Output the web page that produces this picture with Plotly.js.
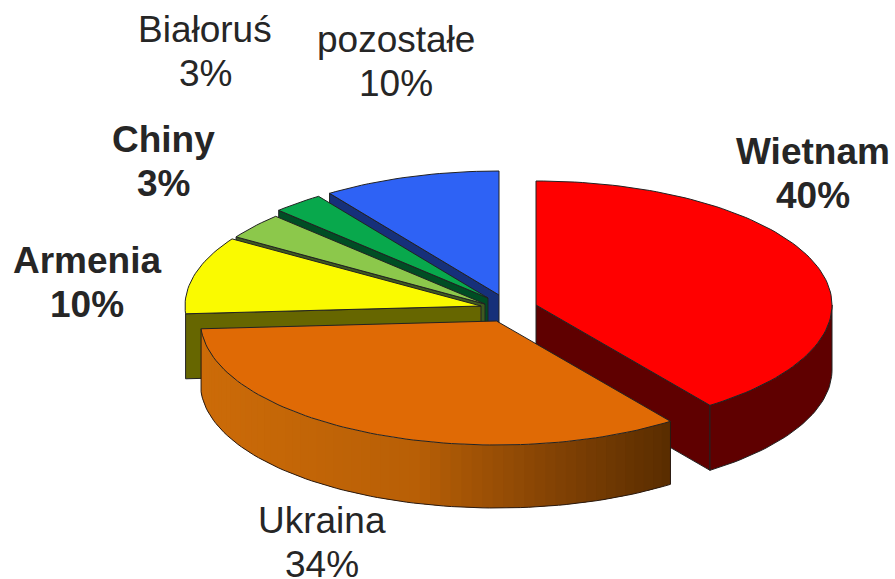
<!DOCTYPE html>
<html><head><meta charset="utf-8">
<script src="https://cdn.plot.ly/plotly-3.0.1.min.js"></script>
<style>html,body{margin:0;padding:0;background:#fff}#c{width:895px;height:579px}</style>
</head><body><div id="c"></div>
<script>
// Data
const categories = ['Wietnam','Ukraina','Armenia','Chiny','Białoruś','pozostałe'];
const shares = [40,34,10.1,3.4,2.8,9.7];
const boldLabel = [true,false,true,true,false,false];

// Styling
const topColors  = ['#FF0000','#E06A05','#FAFA00','#8CC84B','#08A84C','#2E62F5'];
const wallColors = ['#5F0000','#B85F06','#666600','#3F5A20','#004D24','#16307A'];
const gradStops = [[0,[204,107,8]],[0.45,[184,95,6]],[0.75,[130,66,4]],[1,[88,44,0]]];

// Pie geometry (pixel-valued axes)
const rx = 296, ry = 124, depth = 65, frontDepth = 63;
const hubX = [536,496.5,481,485,488,499];
const hubY = [305,321,306,304,298,295];
const labelX = [813,322,87,163,205,396];
const labelY = [151,520,260,139,29,39];
const labelGap = 44;
const fontSize = 37;

const rad = d => d*Math.PI/180;
const total = shares.reduce((a,b)=>a+b,0);
let acc = 0;
const slices = shares.map((v,i)=>{const a0=acc/total*360; acc+=v; return {i,a0,a1:acc/total*360};});
const rimX = (i,a)=>hubX[i]+rx*Math.sin(rad(a));
const rimY = (i,a)=>hubY[i]-ry*Math.cos(rad(a));
function arc(i,a0,a1,off){
  const n=Math.max(2,Math.ceil(Math.abs(a1-a0)/1.5)), xs=[], ys=[];
  for(let k=0;k<=n;k++){const a=a0+(a1-a0)*k/n; xs.push(rimX(i,a)); ys.push(rimY(i,a)+off);}
  return [xs,ys];
}
const traces=[];
function poly(xs,ys,fill,line){
  traces.push({type:'scatter',mode:'lines',x:xs,y:ys,fill:'toself',fillcolor:fill,
    line:line?{color:line,width:1}:{width:0,color:fill},hoverinfo:'skip',showlegend:false});
}
function outline(xs,ys){
  traces.push({type:'scatter',mode:'lines',x:xs,y:ys,line:{color:'#2a1a10',width:1},hoverinfo:'skip',showlegend:false});
}
function radialWall(s){
  const {i}=s, a=s.a0===0?s.a1:s.a0;
  const X=rimX(i,a),Y=rimY(i,a);
  poly([hubX[i],X,X,hubX[i],hubX[i]],[hubY[i],Y,Y+depth,hubY[i]+depth,hubY[i]],wallColors[i],'#222');
}
function topFace(s){
  const [xs,ys]=arc(s.i,s.a0,s.a1,0);
  poly([hubX[s.i],...xs,hubX[s.i]],[hubY[s.i],...ys,hubY[s.i]],topColors[s.i],'#222');
}
function gradColor(t){
  for(let k=1;k<gradStops.length;k++){
    if(t<=gradStops[k][0]){
      const [t0,c0]=gradStops[k-1],[t1,c1]=gradStops[k],f=(t-t0)/(t1-t0);
      return 'rgb('+c0.map((c,j)=>Math.round(c+(c1[j]-c)*f)).join(',')+')';
    }
  }
  return 'rgb('+gradStops[gradStops.length-1][1].join(',')+')';
}
// back slices, from the back towards the front
[5,4,3,2].forEach(i=>{ radialWall(slices[i]); });
[5,4,3,2].forEach(i=>{ topFace(slices[i]); });
// Wietnam: radial cut wall, rim wall, top
const w=slices[0];
(function(){
  const X=rimX(0,w.a1),Y=rimY(0,w.a1);
  poly([hubX[0],X,X,hubX[0],hubX[0]],[hubY[0],Y,Y+depth,hubY[0]+depth,hubY[0]],wallColors[0],'#222');
  const [ax,ay]=arc(0,90,w.a1,0),[bx,by]=arc(0,w.a1,90,depth);
  poly([...ax,...bx,ax[0]],[...ay,...by,ay[0]],wallColors[0],'#222');
  topFace(w);
})();
// Ukraina: rim wall in thin shaded strips, then outlines and top
(function(){
  const s=slices[1], i=1, N=60, da=(s.a1-s.a0)/N;
  const xL=rimX(i,s.a1), xR=rimX(i,s.a0);
  for(let k=0;k<N;k++){
    const a0=s.a0+k*da, a1=Math.min(s.a1,a0+da*1.6);
    const [ax,ay]=arc(i,a0,a1,0),[bx,by]=arc(i,a1,a0,frontDepth);
    const t=(rimX(i,(a0+a1)/2)-xL)/(xR-xL);
    poly([...ax,...bx,ax[0]],[...ay,...by,ay[0]],gradColor(t),null);
  }
  const [bx,by]=arc(i,s.a0,s.a1,frontDepth);
  outline([rimX(i,s.a0),...bx,rimX(i,s.a1)],[rimY(i,s.a0),...by,rimY(i,s.a1)]);
  topFace(s);
})();

const annotations=[];
categories.forEach((c,i)=>{
  const pct=Math.round(shares[i])+'%';
  [c,pct].forEach((t,k)=>annotations.push({
    x:labelX[i],y:labelY[i]+k*labelGap,xref:'x',yref:'y',showarrow:false,xanchor:'center',yanchor:'middle',
    text:boldLabel[i]?'<b>'+t+'</b>':t,
    font:{family:'"Liberation Sans",Arial,sans-serif',size:fontSize,color:'#262626'}
  }));
});
Plotly.newPlot('c',traces,{
  width:895,height:579,margin:{l:0,r:0,t:0,b:0},
  paper_bgcolor:'#fff',plot_bgcolor:'#fff',showlegend:false,
  xaxis:{range:[0,895],visible:false,fixedrange:true},
  yaxis:{range:[579,0],visible:false,fixedrange:true},
  annotations
},{displayModeBar:false,staticPlot:true});
</script></body></html>
